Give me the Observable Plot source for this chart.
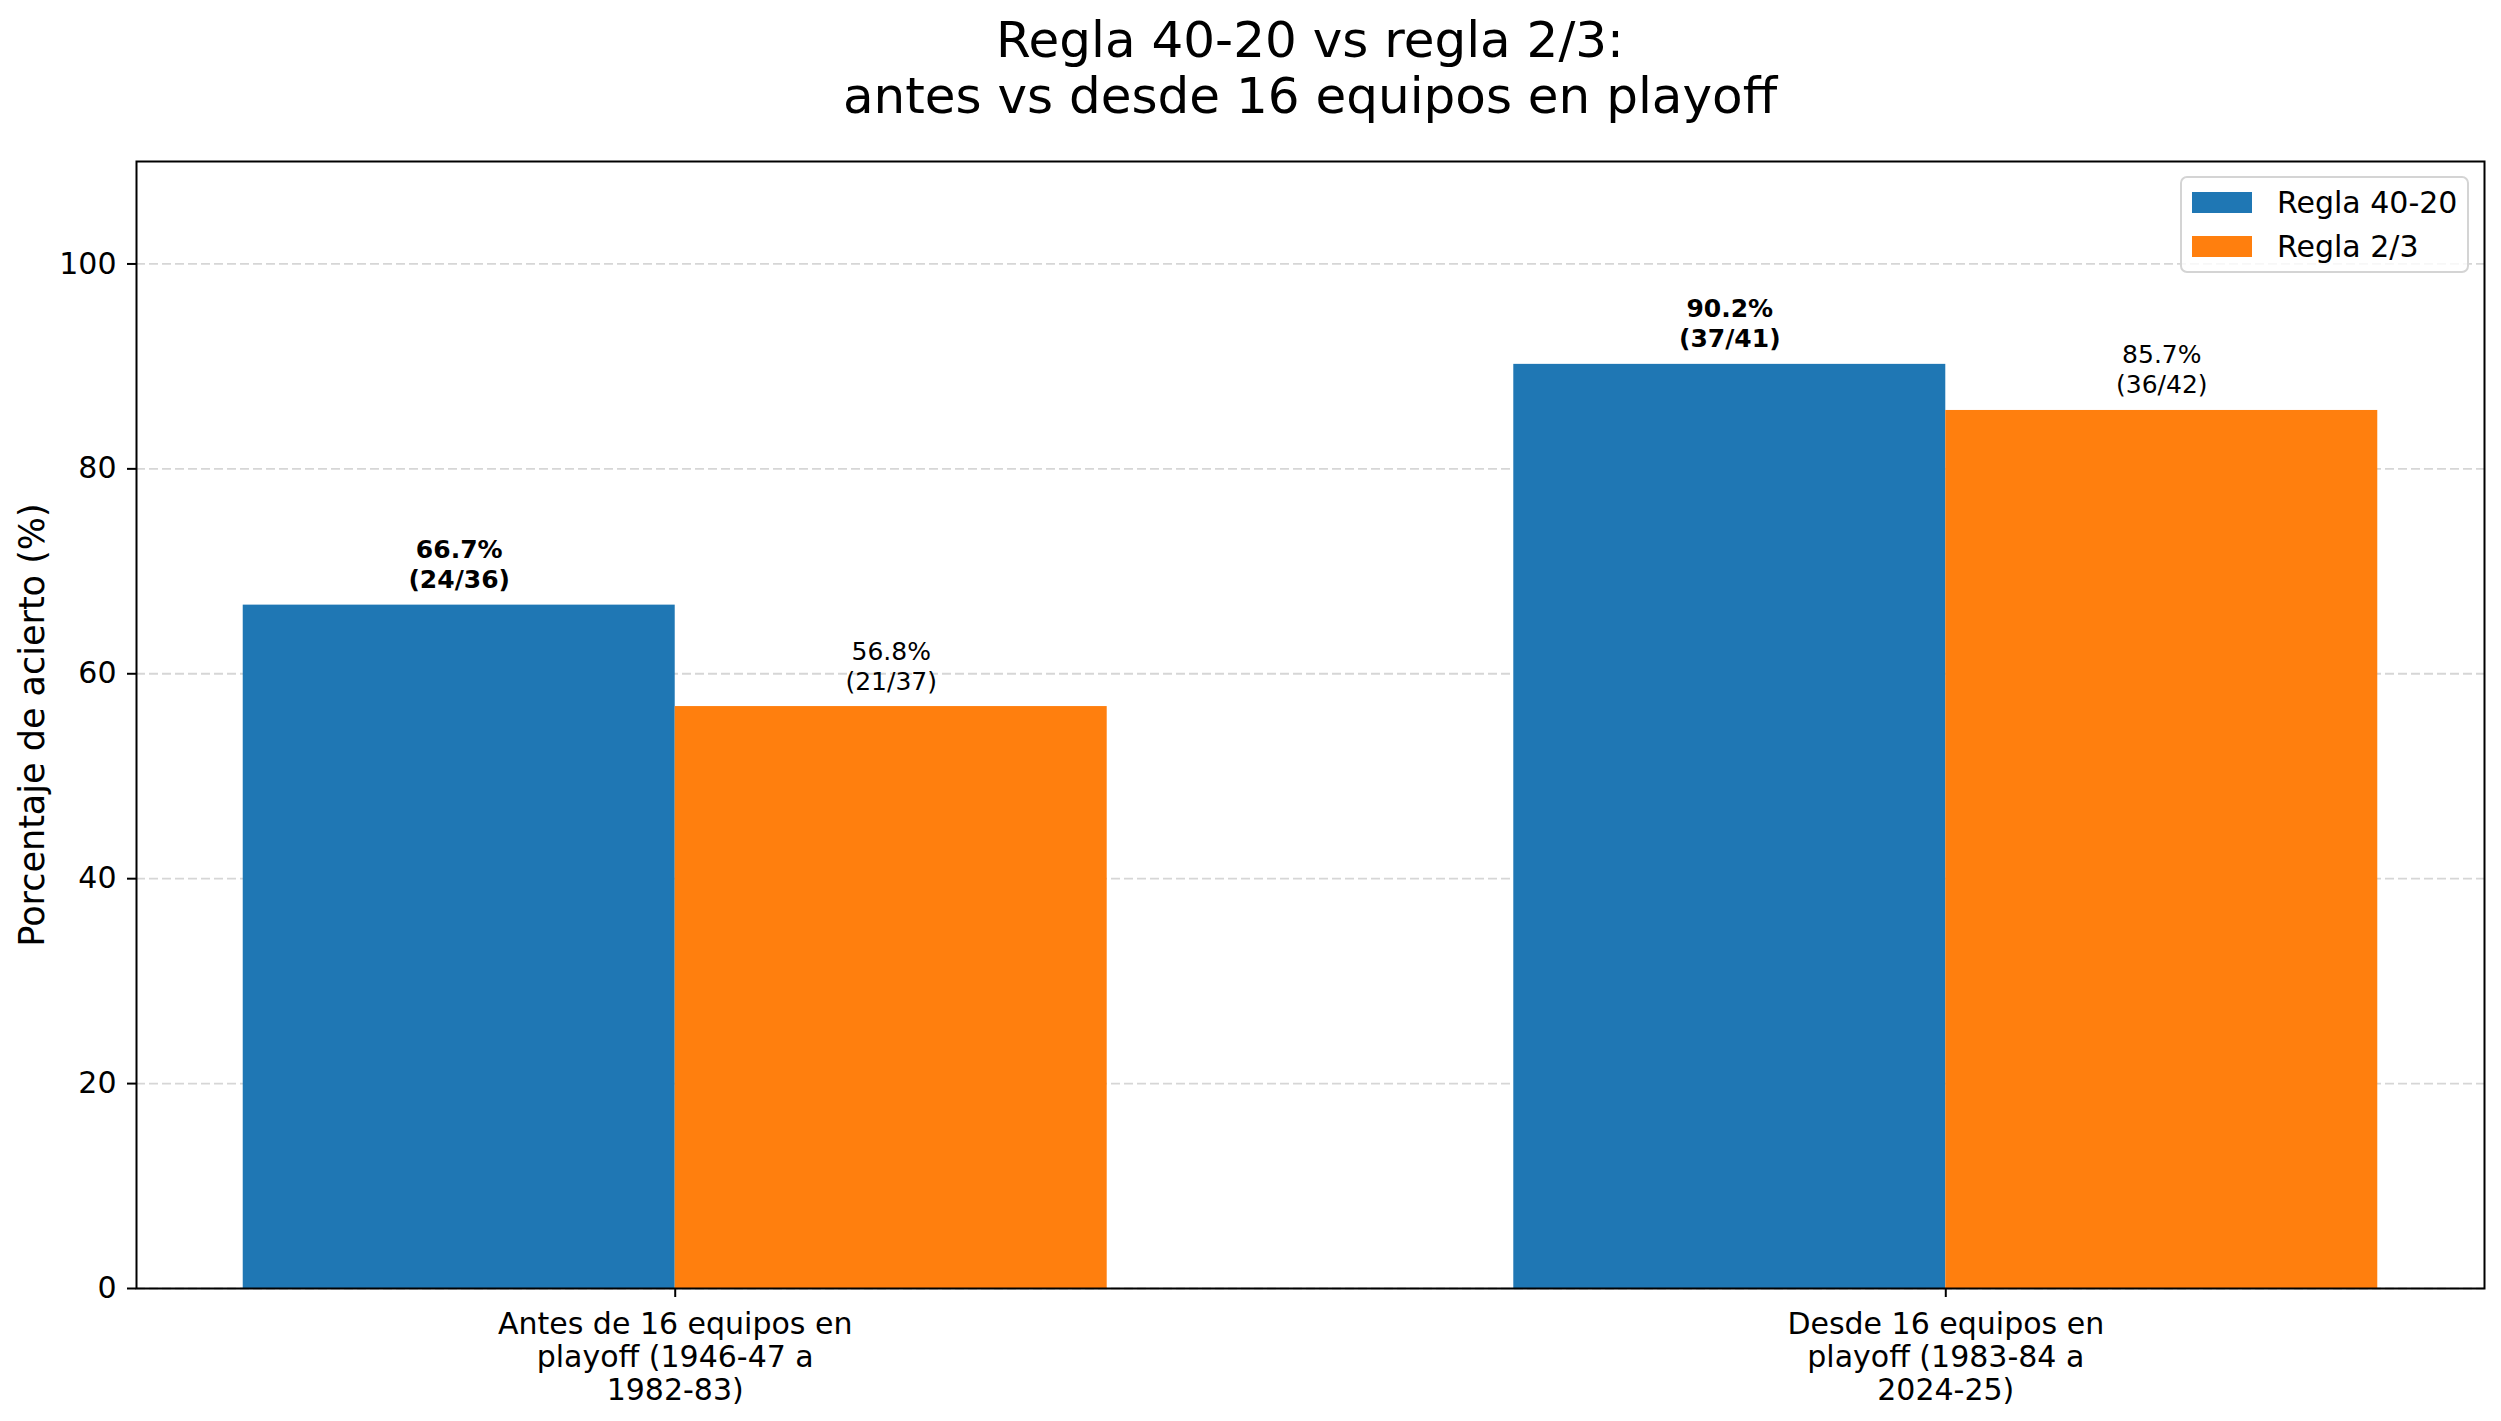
<!DOCTYPE html>
<html>
<head>
<meta charset="utf-8">
<script src="https://cdn.jsdelivr.net/npm/d3@7"></script>
<script src="https://cdn.jsdelivr.net/npm/@observablehq/plot@0.6"></script>
<style>
  html, body { margin: 0; padding: 0; background: #fff; }
  body { font-family: "DejaVu Sans", sans-serif; color: #000; }
  #wrap { position: relative; width: 2501px; height: 1421px; overflow: hidden; }
  #title { box-sizing: border-box; height: 125px; padding: 12px 17px 0 136px; text-align: center;
           font-size: 50px; line-height: 56px; }
  #legend { position: absolute; left: 2180px; top: 176px; width: 289px; height: 97px; box-sizing: border-box;
            border: 2px solid #d4d4d4; border-radius: 7px; background: rgba(255,255,255,0.8); font-size: 30px; }
  .item { position: absolute; left: 10px; height: 40px; display: flex; align-items: center; }
  .sw { width: 60px; height: 21px; margin-right: 25px; }
</style>
</head>
<body>
<div id="wrap">
  <div id="title"></div>
  <div id="chart"></div>
  <div id="legend"></div>
</div>
<script>
// ---- data ----
const titleLines = ["Regla 40-20 vs regla 2/3:", "antes vs desde 16 equipos en playoff"];
const groupLabels = ["Antes de 16 equipos en\nplayoff (1946-47 a\n1982-83)", "Desde 16 equipos en\nplayoff (1983-84 a\n2024-25)"];
const seriesNames = ["Regla 40-20", "Regla 2/3"];
const seriesColors = ["#1f77b4", "#ff7f0e"];
const pct4020 = [66.7, 90.2];
const hits4020 = [24, 37];
const total4020 = [36, 41];
const pct23 = [56.8, 85.7];
const hits23 = [21, 36];
const total23 = [37, 42];
const yTicks = [0, 20, 40, 60, 80, 100];
const yLabel = "Porcentaje de acierto (%)";

// ---- build table ----
const rows = [];
groupLabels.forEach((g, i) => {
  rows.push({g: i, s: 0, value: pct4020[i], hits: hits4020[i], total: total4020[i]});
  rows.push({g: i, s: 1, value: pct23[i], hits: hits23[i], total: total23[i]});
});
const barW = 0.34;
const left = d => d.g + (d.s === 0 ? -barW : 0);
const lbl = d => `${d.value.toFixed(1)}%\n(${d.hits}/${d.total})`;

document.getElementById("title").innerHTML = titleLines.join("<br>");

const chart = Plot.plot({
  width: 2501,
  height: 1296,
  marginTop: 36,
  marginBottom: 133,
  marginLeft: 136,
  marginRight: 17,
  style: {fontFamily: "DejaVu Sans, sans-serif", color: "#000", background: "#fff"},
  x: {domain: [-0.424, 1.424]},
  y: {domain: [0, 110]},
  color: {domain: seriesNames, range: seriesColors},
  marks: [
    Plot.gridY(yTicks, {stroke: "#d6d6d6", strokeOpacity: 1, strokeWidth: 1.8, strokeDasharray: "9,4"}),
    Plot.rectY(rows, {x1: left, x2: d => left(d) + barW, y1: 0, y2: "value", fill: d => seriesNames[d.s], inset: 0}),
    Plot.text(rows.filter(d => d.s === 0), {x: d => left(d) + barW / 2, y: "value", text: lbl, lineAnchor: "bottom",
      dy: -17, fontSize: 25, fontWeight: "bold", lineHeight: 1.2, fill: "#000"}),
    Plot.text(rows.filter(d => d.s === 1), {x: d => left(d) + barW / 2, y: "value", text: lbl, lineAnchor: "bottom",
      dy: -17, fontSize: 25, fontWeight: "normal", lineHeight: 1.2, fill: "#000"}),
    Plot.axisY(yTicks, {tickSize: 9, tickPadding: 11, fontSize: 30, strokeWidth: 2, label: null}),
    Plot.axisX([0, 1], {tickFormat: i => groupLabels[i], tickSize: 9, tickPadding: 13, fontSize: 30,
      lineHeight: 1.1, strokeWidth: 2, label: null}),
    Plot.text([yLabel], {text: d => d, frameAnchor: "left", rotate: -90, dx: -104, fontSize: 35,
      textAnchor: "middle", lineAnchor: "middle", fill: "#000"}),
    Plot.frame({stroke: "#000", strokeWidth: 2})
  ]
});
document.getElementById("chart").appendChild(chart);

// legend
const legend = document.getElementById("legend");
seriesNames.forEach((name, i) => {
  const it = document.createElement("div");
  it.className = "item";
  it.style.top = (4 + i * 44) + "px";
  it.innerHTML = `<div class="sw" style="background:${seriesColors[i]}"></div><span>${name}</span>`;
  legend.appendChild(it);
});
</script>
</body>
</html>
